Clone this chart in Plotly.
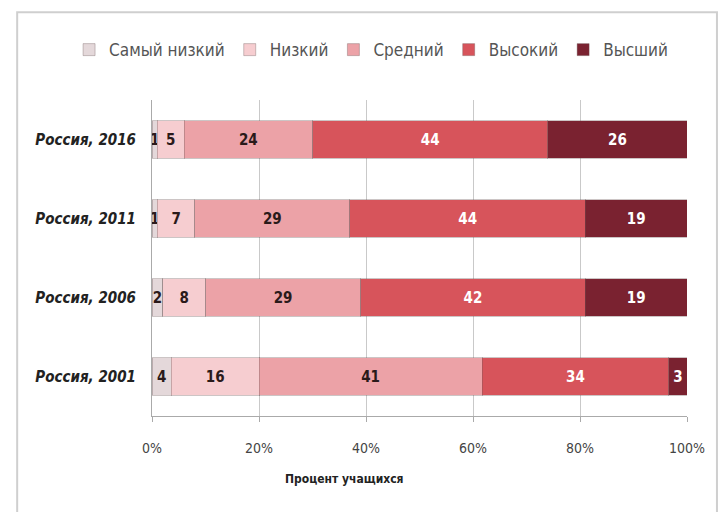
import plotly.graph_objects as go

categories = ["Россия, 2001", "Россия, 2006", "Россия, 2011", "Россия, 2016"]
series_names = ["Самый низкий", "Низкий", "Средний", "Высокий", "Высший"]

# segment shares (%), per category (2001, 2006, 2011, 2016)
lowest = [3.6, 2, 1, 1]
low = [16.4, 8, 7, 5]
medium = [41.7, 29, 29, 24]
high = [34.9, 42, 44, 44]
highest = [3.4, 19, 19, 26]

# printed labels
lowest_lbl = [4, 2, 1, 1]
low_lbl = [16, 8, 7, 5]
medium_lbl = [41, 29, 29, 24]
high_lbl = [34, 42, 44, 44]
highest_lbl = [3, 19, 19, 26]

tick_vals = [0, 20, 40, 60, 80, 100]
tick_text = ["0%", "20%", "40%", "60%", "80%", "100%"]

colors = ["#e4d8da", "#f6cdd0", "#eca2a7", "#d7545b", "#7a2230"]
text_colors = ["#2a1a1a", "#2a1a1a", "#2a1a1a", "#ffffff", "#ffffff"]

FONT = "Liberation Sans Narrow, Arial Narrow, DejaVu Sans Condensed, Liberation Sans, sans-serif"

fig = go.Figure()
data = [lowest, low, medium, high, highest]
labels = [lowest_lbl, low_lbl, medium_lbl, high_lbl, highest_lbl]
for name, vals, lbl, col, tc in zip(series_names, data, labels, colors, text_colors):
    fig.add_trace(go.Bar(
        y=categories, x=vals, name=name, orientation="h",
        marker=dict(color=col, line=dict(color="rgba(110,90,90,0.35)", width=1)),
        text=[str(v) for v in lbl], textposition="inside",
        insidetextanchor="middle",
        textfont=dict(color=tc, size=15, family=FONT, weight="bold"),
        hoverinfo="skip",
    ))

fig.update_layout(
    barmode="stack",
    bargap=0.52,
    width=725, height=512,
    margin=dict(l=152, r=38, t=100, b=96),
    paper_bgcolor="white", plot_bgcolor="white",
    font=dict(family=FONT, color="#333"),
    uniformtext=dict(mode="show", minsize=15),
    showlegend=True,
    legend=dict(orientation="h", x=-0.155, xanchor="left",
                y=1.158, yanchor="middle",
                font=dict(size=17, color="#555", family=FONT),
                itemwidth=30, traceorder="normal", itemclick=False),
    xaxis=dict(range=[0, 100], tickvals=tick_vals, ticktext=tick_text,
               showgrid=True, gridcolor="#c9c9c9", gridwidth=1,
               showline=True, linecolor="#aaaaaa", linewidth=1,
               ticks="outside", ticklen=5, tickcolor="#aaaaaa",
               ticklabelstandoff=14,
               tickfont=dict(size=14, color="#444", family=FONT), zeroline=False),
    yaxis=dict(categoryorder="array", categoryarray=categories,
               showline=True, linecolor="#aaaaaa", linewidth=1,
               ticks="", ticklabelstandoff=12,
               tickfont=dict(size=15, color="#222", family=FONT, style="italic", weight="bold")),
    annotations=[dict(text="Процент учащихся", xref="paper", yref="paper",
                      x=0.36, y=-0.228, showarrow=False,
                      font=dict(size=12, color="#222", family=FONT, weight="bold"))],
    shapes=[dict(type="rect", xref="paper", yref="paper", x0=-0.252, x1=1.056,
                 y0=-0.35, y1=1.278, line=dict(color="#cfcfcf", width=2),
                 layer="below")],
)

fig.write_html("out.html", config={"displayModeBar": False})

# remove the browser's default page margin so the figure sits at (0, 0)
with open("out.html", "r", encoding="utf-8") as f:
    html = f.read()
html = html.replace("<head>", "<head><style>body{margin:0;padding:0;}</style>", 1)
with open("out.html", "w", encoding="utf-8") as f:
    f.write(html)
